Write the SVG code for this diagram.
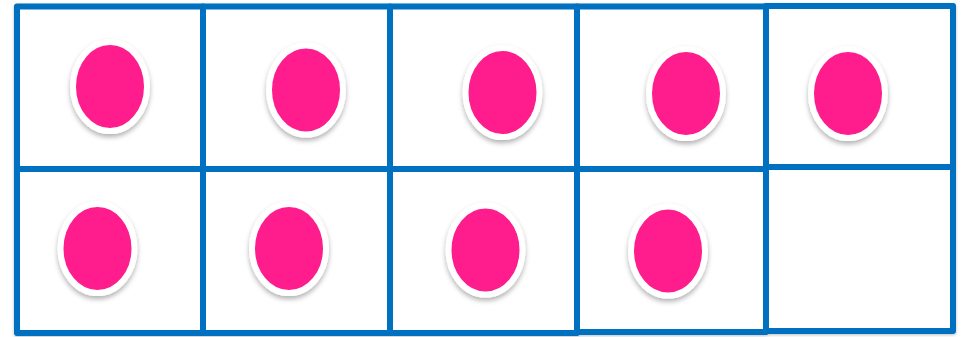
<svg xmlns="http://www.w3.org/2000/svg" width="961" height="337" viewBox="0 0 961 337">
<defs>
<filter id="sh" x="-30%" y="-30%" width="160%" height="170%">
<feDropShadow dx="0" dy="3" stdDeviation="2.5" flood-color="#000" flood-opacity="0.3"/>
</filter>
<filter id="fsh" x="-5%" y="-5%" width="110%" height="110%">
<feDropShadow dx="0" dy="1" stdDeviation="1.5" flood-color="#000" flood-opacity="0.25"/>
</filter>
</defs>
<style>
.cell{fill:#fff;stroke:#0070C0;stroke-width:6;stroke-linejoin:round}
.dot{fill:#FF1B8D;stroke:#fff;stroke-width:6;filter:url(#sh)}
</style>
<rect width="961" height="337" fill="#fff"/>
<g id="frame" filter="url(#fsh)">
<rect id="cell-1" class="cell" x="17" y="6.5" width="186" height="162.5"/>
<rect id="cell-2" class="cell" x="203" y="6.5" width="187" height="162.5"/>
<rect id="cell-3" class="cell" x="390" y="6.5" width="187" height="162.5"/>
<rect id="cell-4" class="cell" x="577" y="6.5" width="189" height="162.5"/>
<rect id="cell-5" class="cell" x="766" y="6" width="187" height="161"/>
<rect id="cell-6" class="cell" x="17" y="169" width="186" height="164"/>
<rect id="cell-7" class="cell" x="203" y="169" width="187" height="164"/>
<rect id="cell-8" class="cell" x="390" y="169" width="187" height="164"/>
<rect id="cell-9" class="cell" x="577" y="169" width="189" height="163"/>
<rect id="cell-10" class="cell" x="766" y="167" width="187" height="164"/>
</g>
<g id="dots">
<ellipse id="dot-1" class="dot" cx="110" cy="86.5" rx="37" ry="44.5"/>
<ellipse id="dot-2" class="dot" cx="306" cy="90" rx="37" ry="44.5"/>
<ellipse id="dot-3" class="dot" cx="502.5" cy="92.5" rx="37" ry="44.5"/>
<ellipse id="dot-4" class="dot" cx="686" cy="93.5" rx="37" ry="44.5"/>
<ellipse id="dot-5" class="dot" cx="848" cy="93.5" rx="37" ry="44.5"/>
<ellipse id="dot-6" class="dot" cx="97.5" cy="248.5" rx="37" ry="44.5"/>
<ellipse id="dot-7" class="dot" cx="289" cy="248.5" rx="37" ry="44.5"/>
<ellipse id="dot-8" class="dot" cx="485.5" cy="250" rx="37" ry="44.5"/>
<ellipse id="dot-9" class="dot" cx="668" cy="251" rx="37" ry="44.5"/>
</g>
</svg>
